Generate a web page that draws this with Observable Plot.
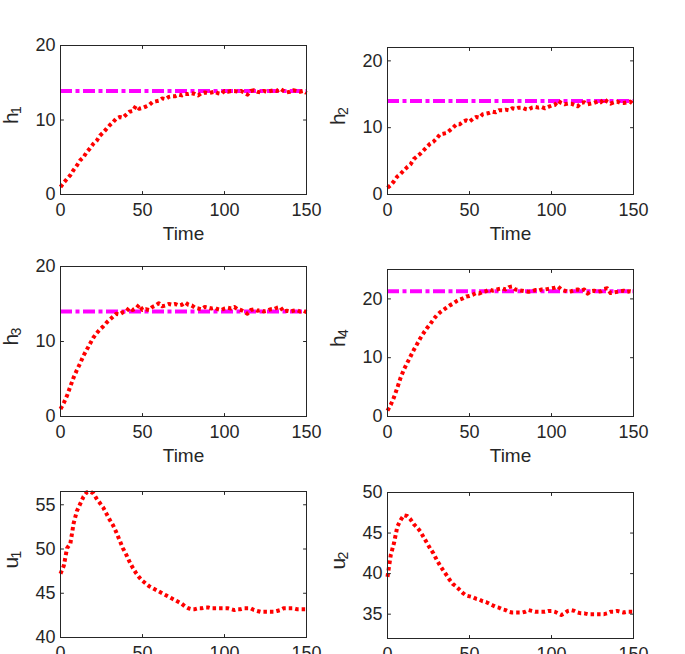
<!DOCTYPE html>
<html><head><meta charset="utf-8">
<script src="https://cdn.jsdelivr.net/npm/d3@7"></script>
<script src="https://cdn.jsdelivr.net/npm/@observablehq/plot@0.6"></script>
<style>
html,body{margin:0;padding:0;background:#fff;}
#wrap{position:relative;width:685px;height:654px;overflow:hidden;background:#fff;}
#wrap > svg{position:absolute;}
</style></head><body><div id="wrap"></div>
<script>
// ---- data ----
const time = d3.range(0, 151, 2); // sample instants 0,2,...,150
const xTicks = [0, 50, 100, 150];
const h1 = [1.0,1.6,2.1,2.6,3.3,3.9,4.6,5.0,5.7,6.2,6.8,7.2,7.9,8.3,8.8,9.3,9.7,10.2,10.4,10.3,10.7,11.1,11.2,11.9,11.5,11.6,11.8,12.0,12.4,12.5,12.6,12.9,12.8,13.1,13.2,13.2,13.4,13.3,13.5,13.5,13.6,13.5,13.3,13.6,13.7,13.6,13.7,13.8,13.6,13.5,13.9,13.8,13.9,13.9,13.8,13.9,13.7,13.4,13.9,14.0,13.8,13.7,13.9,13.8,13.9,14.0,13.9,14.2,13.9,13.7,13.8,14.0,13.9,13.8,13.9,13.6];
const h2 = [1.0,1.4,2.0,2.7,3.1,3.6,4.1,4.5,5.3,5.7,6.1,6.6,7.1,7.6,7.9,8.4,9.0,9.1,9.2,9.6,10.0,10.5,10.5,10.9,11.1,10.9,11.3,11.6,11.5,12.0,12.1,12.2,12.4,12.3,12.6,12.6,12.7,12.6,12.9,12.8,13.0,13.0,12.8,12.7,13.0,13.1,13.0,13.1,12.9,13.1,13.3,13.4,14.0,13.7,13.5,13.6,13.6,13.4,13.2,13.7,13.8,13.5,13.6,13.7,13.9,13.8,14.3,13.9,13.6,13.8,13.9,13.7,13.7,13.8,13.9,13.5];
const h3 = [1.0,1.8,2.8,4.0,5.2,6.2,7.1,8.1,8.9,9.7,10.5,11.1,11.6,12.0,12.5,12.9,13.3,13.7,13.6,13.9,14.0,14.5,14.2,14.4,14.9,14.2,14.3,14.2,14.6,14.8,15.1,14.7,14.8,15.0,14.9,15.0,14.8,14.9,15.2,14.9,14.8,14.5,14.4,14.3,14.6,14.5,14.4,14.5,14.3,14.2,14.4,14.5,14.4,14.6,14.3,14.2,14.0,13.7,14.2,14.3,14.1,14.2,14.0,14.1,14.3,14.3,14.5,14.6,14.0,14.1,14.0,14.1,14.2,14.0,14.1,13.9];
const h4 = [1.0,2.0,3.3,4.9,6.6,8.0,9.1,10.2,11.3,12.3,13.3,14.2,15.0,15.7,16.5,17.2,17.7,18.1,18.5,18.9,19.2,19.6,19.9,20.1,20.4,20.5,20.7,21.0,20.9,21.2,21.3,21.6,21.4,21.5,21.7,21.8,21.6,22.0,22.1,21.6,21.5,21.4,21.3,21.2,21.3,21.5,21.4,21.6,21.6,21.7,21.8,21.9,22.1,21.6,21.4,21.2,21.3,21.5,21.6,21.4,21.6,20.9,21.3,21.4,21.2,21.3,21.7,21.8,21.0,21.1,21.2,21.3,21.4,21.2,21.3,21.2];
const u1 = [47.2,48.1,50.1,50.6,52.9,54.3,55.1,55.9,56.4,56.5,56.3,55.7,55.2,54.7,54.0,53.3,52.7,51.9,51.0,50.1,49.4,48.6,47.9,47.3,46.8,46.4,46.1,45.8,45.6,45.4,45.2,45.0,44.8,44.6,44.4,44.2,44.0,43.8,43.5,43.3,43.2,43.2,43.3,43.3,43.4,43.4,43.3,43.3,43.3,43.3,43.3,43.3,43.2,43.1,43.2,43.2,43.3,43.3,43.3,43.1,43.0,42.9,42.9,42.9,42.9,42.9,43.0,43.1,43.3,43.3,43.3,43.3,43.2,43.2,43.2,43.2];
const u2 = [39.6,42.3,43.8,45.8,46.6,47.2,47.1,46.7,46.1,45.7,45.2,44.5,43.8,43.1,42.5,41.7,41.0,40.4,39.8,39.2,38.7,38.4,38.0,37.6,37.3,37.2,37.1,36.9,36.8,36.6,36.5,36.3,36.1,35.9,35.8,35.6,35.5,35.3,35.2,35.2,35.2,35.2,35.3,35.5,35.4,35.3,35.3,35.3,35.3,35.4,35.4,35.3,35.1,34.9,35.1,35.4,35.5,35.4,35.2,35.1,35.1,35.0,35.0,35.0,35.0,35.0,35.0,35.1,35.3,35.3,35.4,35.3,35.2,35.3,35.3,35.3];
const references = [13.9, 14.0, 14.0, 21.3, null, null];
const yDomains = [[0,20],[0,22],[0,20],[0,25],[40,56.5],[32,50]];
const yTickSets = [[0,10,20],[0,10,20],[0,10,20],[0,10,20],[40,45,50,55],[35,40,45,50]];
const labelNames = ["h","h","h","h","u","u"];
const labelSubs = ["1","2","3","4","1","2"];
const xLabel = "Time";
const seriesList = [h1, h2, h3, h4, u1, u2];

// ---- layout ----
const layout = [
  {left:0,   top:0,   width:340, height:250, mt:45, mr:34, mb:56, ml:60},
  {left:330, top:0,   width:325, height:250, mt:47, mr:22, mb:56, ml:57},
  {left:0,   top:220, width:340, height:250, mt:46, mr:34, mb:54, ml:60},
  {left:330, top:220, width:325, height:250, mt:49, mr:22, mb:54, ml:57},
  {left:0,   top:440, width:340, height:250, mt:51, mr:34, mb:53, ml:60},
  {left:330, top:440, width:325, height:250, mt:52, mr:22, mb:52, ml:57}
];

const AX = "#262626";
const FONT = "'Liberation Sans', Arial, Helvetica, sans-serif";
const tickShape = {draw(ctx, l) { ctx.moveTo(0, 0); ctx.lineTo(0, -l); }};
const wrap = document.getElementById("wrap");

seriesList.forEach((vals, i) => {
  const L = layout[i];
  const dom = yDomains[i];
  const yt = yTickSets[i];
  const data = time.map((t, k) => ({t, v: vals[k]}));
  const marks = [];
  if (references[i] != null) {
    marks.push(Plot.ruleY([references[i]], {stroke: "#ff00ff", strokeWidth: 4, strokeDasharray: "12,3.5,4,3.5"}));
  }
  marks.push(Plot.line(data, {x: "t", y: "v", stroke: "#ff0000", strokeWidth: 4, strokeDasharray: "3.5,3", strokeLinecap: "butt"}));
  marks.push(Plot.frame({stroke: AX, strokeWidth: 1}));
  // inward ticks on all four sides
  marks.push(Plot.vector(xTicks, {x: d => d, y: dom[0], length: 3, rotate: 0, anchor: "start", shape: tickShape, stroke: AX, strokeWidth: 1}));
  marks.push(Plot.vector(xTicks, {x: d => d, y: dom[1], length: 3, rotate: 180, anchor: "start", shape: tickShape, stroke: AX, strokeWidth: 1}));
  marks.push(Plot.vector(yt, {x: 0, y: d => d, length: 3, rotate: 90, anchor: "start", shape: tickShape, stroke: AX, strokeWidth: 1}));
  marks.push(Plot.vector(yt, {x: 150, y: d => d, length: 3, rotate: -90, anchor: "start", shape: tickShape, stroke: AX, strokeWidth: 1}));
  marks.push(Plot.axisX(xTicks, {tickSize: 0, tickPadding: 9, fontSize: 18, label: null, fill: AX}));
  marks.push(Plot.axisY(yt, {tickSize: 0, tickPadding: 5, fontSize: 18, label: null, fill: AX}));
  marks.push(Plot.text([xLabel], {text: d => d, frameAnchor: "bottom", dy: 32, lineAnchor: "top", fontSize: 19, fill: AX}));
  marks.push(Plot.text([labelNames[i]], {text: d => d, frameAnchor: "left", dx: -49, dy: 4, rotate: -90, fontSize: 21, fill: AX}));
  marks.push(Plot.text([labelSubs[i]], {text: d => d, frameAnchor: "left", dx: -44, dy: -6, rotate: -90, fontSize: 14, fill: AX}));

  const svg = Plot.plot({
    width: L.width, height: L.height,
    marginTop: L.mt, marginRight: L.mr, marginBottom: L.mb, marginLeft: L.ml,
    x: {domain: [0, 150]},
    y: {domain: dom},
    style: {background: "transparent", overflow: "visible", color: AX, fontFamily: FONT},
    marks
  });
  svg.style.left = L.left + "px";
  svg.style.top = L.top + "px";
  wrap.appendChild(svg);
});
</script>
</body></html>
